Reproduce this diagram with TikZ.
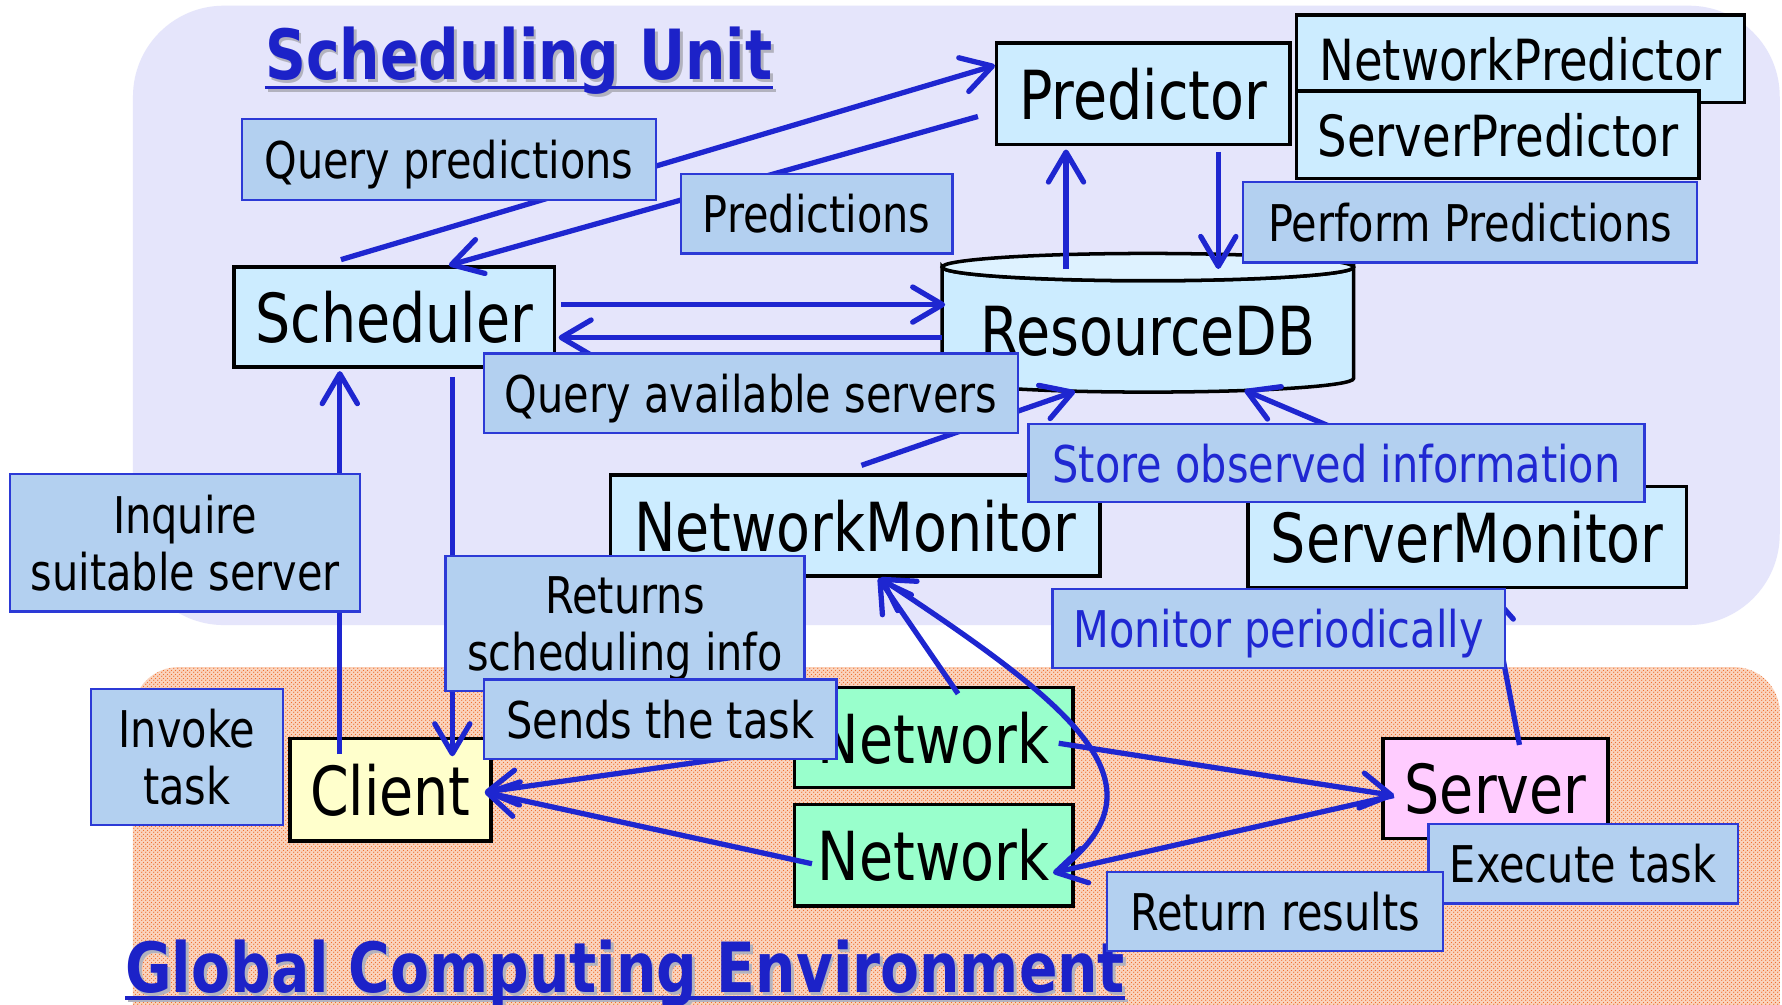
\documentclass[tikz,border=0pt]{standalone}
\usepackage{fontspec}
\setmainfont{DejaVu Sans}[FakeStretch=0.82]
\usetikzlibrary{arrows.meta,calc,patterns.meta}

\newdimen\pu \pu=0.02273cm
\newcommand\fbig{\fontsize{38.5}{42}\selectfont}
\newcommand\fsub{\fontsize{32.3}{36}\selectfont}
\newcommand\flab{\fontsize{28.8}{32.3}\selectfont}
\newcommand\ftitle{\fontsize{39.4}{44}\selectfont\bfseries}

\definecolor{flowblue}{RGB}{30,38,208}
\definecolor{inkblue}{RGB}{32,40,210}
\definecolor{titleblue}{RGB}{28,34,200}
\definecolor{titleshade}{RGB}{178,178,190}
\definecolor{tagfill}{RGB}{179,208,240}
\definecolor{tagline}{RGB}{44,58,214}
\definecolor{boxfill}{RGB}{204,236,255}
\definecolor{boxtop}{RGB}{222,242,255}
\definecolor{clientfill}{RGB}{255,255,204}
\definecolor{netfill}{RGB}{153,255,204}
\definecolor{serverfill}{RGB}{255,204,255}
\definecolor{unitbg}{RGB}{229,229,251}
\definecolor{envbg}{RGB}{250,212,190}
\definecolor{envdot}{RGB}{240,112,48}

% fine staggered dot texture of the environment area
\tikzdeclarepattern{
  name=envdots,
  type=uncolored,
  bounding box={(0pt,0pt) and (2.3pt,2.3pt)},
  tile size={(2.3pt,2.3pt)},
  code={
    \pgfpathcircle{\pgfqpoint{0.575pt}{0.575pt}}{0.45pt}
    \pgfpathcircle{\pgfqpoint{1.725pt}{1.725pt}}{0.45pt}
    \pgfusepath{fill}
  }
}

\begin{document}
\begin{tikzpicture}[x=0.02273cm, y=-0.02273cm,
  box/.style={draw=black, line width=2pt, fill=boxfill, inner sep=0pt,
    font=\fbig, text depth=0pt},
  tag/.style={draw=tagline, line width=1.3pt, fill=tagfill, inner sep=0pt,
    font=\flab, align=center, text depth=0pt},
  flow/.style={draw=flowblue, line width=3pt,
    -{Straight Barb[length=17pt,width=20pt,round]}},
  ttl/.style={font=\ftitle, text=titleblue, inner sep=0pt, anchor=base west},
  ttlshade/.style={font=\ftitle, text=titleshade, inner sep=0pt, anchor=base west}]

\useasboundingbox (0,0) rectangle (1568,884);
\clip (0,0) rectangle (1568,884);
\fill[white] (0,0) rectangle (1568,884);

% the two areas
\fill[unitbg, rounded corners=80\pu] (117,5) rectangle (1566,550);
\fill[envbg, rounded corners=40\pu] (117,587) rectangle (1566,940);
\fill[pattern=envdots, pattern color=envdot, rounded corners=40\pu]
  (117,587) rectangle (1566,940);

% area titles with their drop shadow and underline
\node[ttlshade] (tsus) at (235.5,72.5) {Scheduling Unit};
\draw[titleshade, line width=2pt] ($(tsus.base west)+(0,7)$) -- ($(tsus.base east)+(0,7)$);
\node[ttl] (tsu) at (233,70) {Scheduling Unit};
\draw[titleblue, line width=2pt] ($(tsu.base west)+(0,7)$) -- ($(tsu.base east)+(0,7)$);

\node[ttlshade] (tges) at (112.5,875.5) {Global Computing Environment};
\draw[titleshade, line width=2pt] ($(tges.base west)+(0,5)$) -- ($(tges.base east)+(0,5)$);
\node[ttl] (tge) at (110,873) {Global Computing Environment};
\draw[titleblue, line width=2pt] ($(tge.base west)+(0,5)$) -- ($(tge.base east)+(0,5)$);

% components
\node[box, font=\fsub, minimum width=394\pu, minimum height=77\pu] (netpred) at (1338,51.5) {NetworkPredictor};
\node[box, font=\fsub, minimum width=354\pu, minimum height=77\pu] (srvpred) at (1318,118.5) {ServerPredictor};
\node[box, minimum width=258\pu, minimum height=89\pu] (pred) at (1006,82.5) {Predictor};
\node[box, minimum width=282\pu, minimum height=88\pu] (sched) at (347,279) {Scheduler};

% resource database cylinder
\filldraw[fill=boxfill, draw=black, line width=2pt]
  (829,235) -- (829,333) arc[start angle=180, end angle=0, x radius=181, y radius=12]
  -- (1191,235) arc[start angle=0, end angle=180, x radius=181, y radius=12] -- cycle;
\filldraw[fill=boxtop, draw=black, line width=2pt] (1010,235) ellipse[x radius=181, y radius=12];
\node[inner sep=0pt, font=\fbig, text height=57\pu, text depth=0pt,
  minimum width=362\pu, minimum height=122\pu] (rdb) at (1010,284) {ResourceDB};

\node[box, minimum width=431\pu, minimum height=89\pu] (netmon) at (752.5,462.5) {NetworkMonitor};
\node[box, minimum width=386\pu, minimum height=89\pu] (srvmon) at (1291,472.5) {ServerMonitor};
\node[box, fill=clientfill, minimum width=177\pu, minimum height=90\pu] (client) at (343.5,695) {Client};
\node[box, fill=netfill, minimum width=245\pu, minimum height=88\pu] (net1) at (821.5,649) {Network};
\node[box, fill=netfill, minimum width=245\pu, minimum height=89\pu] (net2) at (821.5,752.5) {Network};
\node[box, fill=serverfill, minimum width=198\pu, minimum height=88\pu] (server) at (1316,694) {Server};

% interactions
\draw[flow] ($(sched.north)+(-47,-5)$) -- ($(pred.west)+(0,-25)$);
\draw[flow] ($(pred.west)+(-15,20)$) -- ($(sched.north)+(48,0)$);
\draw[flow] ($(sched.east)+(4,-11)$) -- ($(rdb.west)+(3,-16)$);
\draw[flow] ($(rdb.west)+(0,13)$) -- ($(sched.east)+(2,18)$);
\draw[flow] ($(rdb.north)+(-72,14)$) -- ($(pred.south)+(-68,3)$);
\draw[flow] ($(pred.south)+(66,5)$) -- ($(rdb.north)+(62,14)$);
\draw[flow] ($(netmon.north)+(5.5,-7)$) -- ($(rdb.south)+(-64,-1)$);
\draw[flow] (srvmon.north) -- ($(rdb.south)+(85,-2)$);
\draw[flow] ($(client.north)+(-44.5,15)$) -- ($(sched.south)+(-48,2)$);
\draw[flow] ($(sched.south)+(51,7)$) -- ($(client.north)+(54.5,17)$);
\draw[flow] ($(net1.west)+(0,10)$) -- ($(client.east)+(-7,2)$);
\draw[flow] ($(net2.west)+(17,7.5)$) -- ($(client.east)+(-7,2)$);
\draw[flow] ($(net1.east)+(-14,5)$) -- ($(server.west)+(11,6)$);
\draw[flow] ($(server.west)+(11,6)$) -- ($(net2.east)+(-19,15.5)$);
\draw[flow] ($(net1.north)+(21.5,7)$) -- ($(netmon.south)+(20.5,0)$);
\draw[flow] ($(net2.east)+(-14,13.5)$) .. controls ($(net2.east)+(86,-62.5)$)
  and ($(netmon.south)+(192.5,113)$) .. ($(netmon.south)+(22,0)$);
\draw[flow] ($(server.north)+(21,7)$) -- ($(srvmon.south)+(20,1)$);

% captions
\node[tag, minimum width=169\pu, minimum height=120\pu] (lit) at (164.5,666) {Invoke\\task};
\node[tag, minimum width=308\pu, minimum height=121\pu] (lis) at (163,477.5) {Inquire\\suitable server};
\node[tag, minimum width=316\pu, minimum height=119\pu] (lrs) at (550,548.5) {Returns\\scheduling info};
\node[tag, minimum width=310\pu, minimum height=70\pu] (lst) at (581,633) {Sends the task};
\node[tag, minimum width=364\pu, minimum height=71\pu] (lqp) at (395,140.5) {Query predictions};
\node[tag, minimum width=239\pu, minimum height=70\pu] (lpr) at (718.5,188) {Predictions};
\node[tag, minimum width=399\pu, minimum height=71\pu] (lpp) at (1293.5,195.5) {Perform Predictions};
\node[tag, minimum width=470\pu, minimum height=70\pu] (lqa) at (661,346) {Query available servers};
\node[tag, text=inkblue, minimum width=542\pu, minimum height=69\pu] (lso) at (1176,407.5) {Store observed information};
\node[tag, text=inkblue, minimum width=398\pu, minimum height=70\pu] (lmp) at (1125,553) {Monitor periodically};
\node[tag, minimum width=272\pu, minimum height=70\pu] (let) at (1393,760) {Execute task};
\node[tag, minimum width=296\pu, minimum height=70\pu] (lrr) at (1122,802) {Return results};
\end{tikzpicture}
\end{document}
